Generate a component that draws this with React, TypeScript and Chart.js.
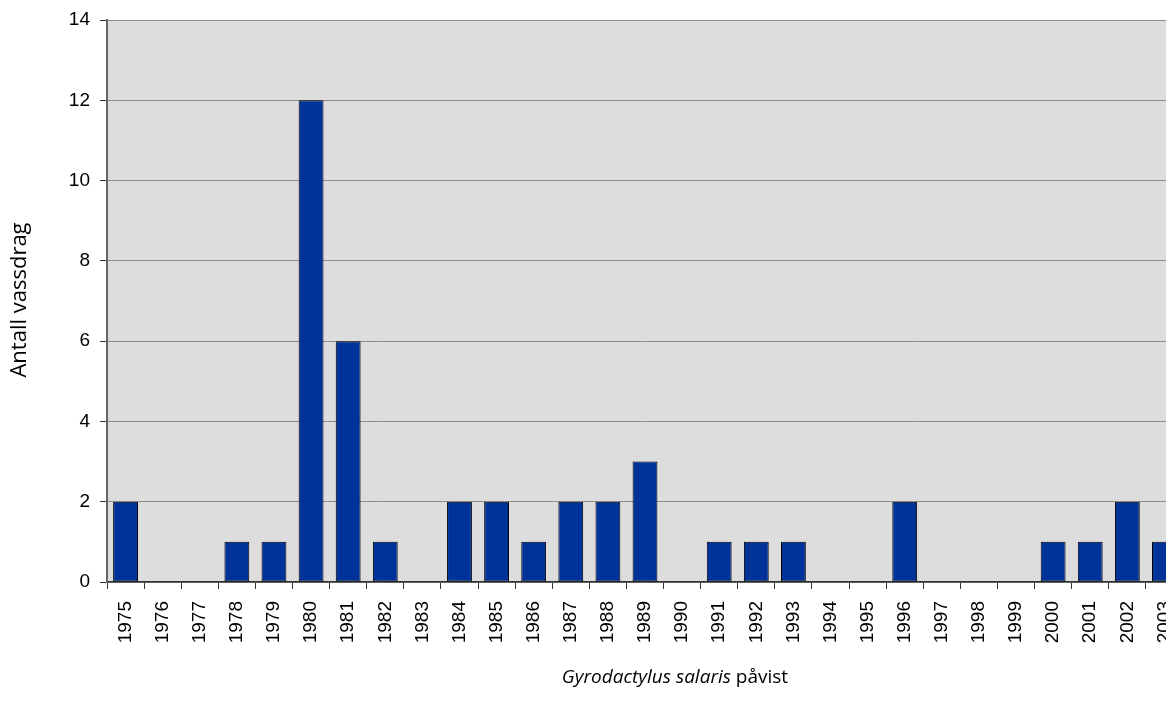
import React, { useEffect, useRef } from "react";
import { Chart, registerables } from "chart.js";

Chart.register(...registerables);

const years = [
  "1975", "1976", "1977", "1978", "1979", "1980", "1981", "1982", "1983", "1984",
  "1985", "1986", "1987", "1988", "1989", "1990", "1991", "1992", "1993", "1994",
  "1995", "1996", "1997", "1998", "1999", "2000", "2001", "2002", "2003",
];
const counts = [2, 0, 0, 1, 1, 12, 6, 1, 0, 2, 2, 1, 2, 2, 3, 0, 1, 1, 1, 0, 0, 2, 0, 0, 0, 1, 1, 2, 1];
const yTitle = "Antall vassdrag";
const xTitleItalic = "Gyrodactylus salaris";
const xTitleRest = " påvist";

export default function App() {
  const ref = useRef<HTMLCanvasElement | null>(null);
  useEffect(() => {
    if (!ref.current) return;
    const bgPlugin = {
      id: "bg",
      beforeDraw(chart: any) {
        const { ctx, chartArea } = chart;
        ctx.save();
        ctx.fillStyle = "#dddddd";
        ctx.fillRect(chartArea.left, chartArea.top, chartArea.right - chartArea.left, chartArea.bottom - chartArea.top);
        ctx.restore();
      },
      afterDraw(chart: any) {
        const { ctx } = chart;
        ctx.save();
        ctx.fillStyle = "#000";
        ctx.textBaseline = "middle";
        // y title
        ctx.save();
        ctx.translate(12, 292);
        ctx.rotate(-Math.PI / 2);
        ctx.textAlign = "center";
        ctx.font = "22px 'Open Sans'";
        ctx.fillText(yTitle, 0, 0);
        ctx.restore();
        // x title
        ctx.font = "italic 19px 'Open Sans'";
        const w1 = ctx.measureText(xTitleItalic).width;
        ctx.font = "19px 'Open Sans'";
        const w2 = ctx.measureText(xTitleRest).width;
        const cx = 667;
        const start = cx - (w1 + w2) / 2;
        ctx.textAlign = "left";
        ctx.font = "italic 19px 'Open Sans'";
        ctx.fillText(xTitleItalic, start, 670);
        ctx.font = "19px 'Open Sans'";
        ctx.fillText(xTitleRest, start + w1, 670);
        ctx.restore();
      },
    };
    const chart = new Chart(ref.current, {
      type: "bar",
      data: {
        labels: years,
        datasets: [
          {
            data: counts,
            backgroundColor: "#003399",
            borderColor: "#000000",
            borderWidth: (c: any) => (c.raw === 0 ? 0 : 1),
            borderSkipped: false,
            barPercentage: 0.67,
            categoryPercentage: 1,
          },
        ],
      },
      options: {
        animation: false,
        responsive: true,
        maintainAspectRatio: false,
        layout: { padding: { top: 12, right: 0, left: 0, bottom: 0 } },
        plugins: { legend: { display: false }, tooltip: { enabled: false } },
        scales: {
          x: {
            offset: true,
            grid: {
              offset: true,
              drawOnChartArea: false,
              drawTicks: true,
              tickLength: 7,
              tickColor: "#333333",
            },
            border: { color: "#333333", width: 1.5 },
            ticks: {
              minRotation: 90,
              maxRotation: 90,
              autoSkip: false,
              padding: 12,
              color: "#000",
              font: { family: "'Liberation Sans'", size: 19 },
            },
            afterFit(scale: any) {
              scale.height = 131;
              scale.paddingLeft = 0;
              scale.paddingRight = 0;
            },
          },
          y: {
            min: 0,
            max: 14,
            ticks: {
              stepSize: 2,
              padding: 10,
              color: "#000",
              font: { family: "'Liberation Sans'", size: 19 },
            },
            grid: {
              color: "#8c8c8c",
              lineWidth: 1,
              drawTicks: true,
              tickLength: 7,
              tickColor: "#333333",
            },
            border: { color: "#666666", width: 2 },
            afterFit(scale: any) {
              scale.width = 99;
              scale.paddingTop = 0;
              scale.paddingBottom = 0;
            },
          },
        },
      },
      plugins: [bgPlugin],
    } as any);
    return () => chart.destroy();
  }, []);
  return (
    <div style={{ width: 1166, height: 705, overflow: "hidden" }}>
      <div style={{ width: 1175, height: 705, position: "relative" }}>
        <canvas ref={ref} />
      </div>
    </div>
  );
}
